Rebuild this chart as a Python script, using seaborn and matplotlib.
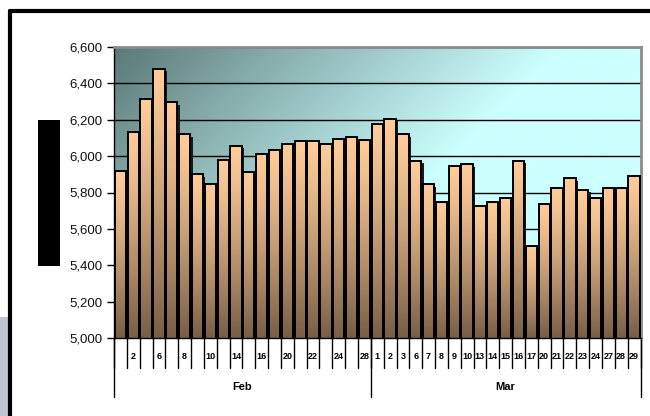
import numpy as np
import pandas as pd
import matplotlib
matplotlib.use("Agg")
import matplotlib.pyplot as plt
import seaborn as sns
from matplotlib.patches import Rectangle
from matplotlib.lines import Line2D
import matplotlib.transforms as mtransforms
from matplotlib.ticker import FuncFormatter

# ---- data ----
feb_days = [1, 2, 3, 6, 7, 8, 9, 10, 13, 14, 15, 16, 17, 20, 21, 22, 23, 24, 27, 28]
feb_values = [5920, 6134, 6316, 6479, 6296, 6120, 5900, 5847, 5979, 6056,
              5914, 6012, 6034, 6067, 6085, 6085, 6067, 6094, 6105, 6089]
mar_days = [1, 2, 3, 6, 7, 8, 9, 10, 13, 14, 15, 16, 17, 20, 21, 22, 23, 24, 27, 28, 29]
mar_values = [6177, 6204, 6120, 5975, 5845, 5746, 5946, 5955, 5726, 5746, 5771,
              5975, 5506, 5737, 5823, 5878, 5814, 5771, 5823, 5823, 5891]
months = ["Feb", "Mar"]
y_ticks = [5000, 5200, 5400, 5600, 5800, 6000, 6200, 6400, 6600]

sns.set_theme(style="white")
plt.rcParams['font.family'] = ['Liberation Sans', 'DejaVu Sans']

df = pd.DataFrame({
    "month": [months[0]] * len(feb_days) + [months[1]] * len(mar_days),
    "day": feb_days + mar_days,
    "value": feb_values + mar_values,
})
df["key"] = df["month"] + " " + df["day"].astype(str)
n = len(df)

W, H = 650, 416
fig = plt.figure(figsize=(W / 100, H / 100), dpi=100)
fig.patch.set_facecolor("white")
ax = fig.add_axes([114 / W, 1 - 338 / H, (640.5 - 114) / W, (338 - 47) / H])

sns.barplot(data=df, x="key", y="value", order=list(df["key"]), color="#FFCC99",
            width=0.88, edgecolor="black", linewidth=1.4, errorbar=None, ax=ax)

ymin, ymax = y_ticks[0], y_ticks[-1]

# background gradient of plot area
nx, ny = 300, 300
xx, yy = np.meshgrid(np.linspace(0, 1, nx), np.linspace(0, 1, ny))
t = np.clip((xx + 0.55 * yy) / 0.85, 0, 1) ** 0.95
c0 = np.array([0x5A, 0x78, 0x76]) / 255
c1 = np.array([0xCC, 0xFF, 0xFF]) / 255
bg = c0 + (c1 - c0) * t[..., None]
ax.imshow(bg, extent=[0, 1, 0, 1], transform=ax.transAxes, aspect="auto",
          zorder=0, origin="upper", interpolation="bilinear")

# bars: gradient fill + shadow
top_c = np.array([0xFF, 0xCC, 0x99]) / 255
bot_c = np.array([0x78, 0x5E, 0x46]) / 255
shadow_tr = ax.transData + mtransforms.ScaledTranslation(1.6 / 72, -1.6 / 72, fig.dpi_scale_trans)
for p in list(ax.patches):
    x0, w = p.get_x(), p.get_width()
    top = p.get_y() + p.get_height()
    bottom = ymin
    sh = Rectangle((x0, bottom), w, top - bottom, transform=shadow_tr,
                   facecolor="#1a1a1a", edgecolor="none", zorder=2)
    ax.add_patch(sh)
    frac = (np.linspace(0, 1, 128) ** 1.25)[:, None]
    grad = (top_c + (bot_c - top_c) * frac)[:, None, :]
    ax.imshow(grad, extent=[x0, x0 + w, bottom, top], aspect="auto",
              zorder=2.5, origin="upper", interpolation="bilinear")
    p.set_facecolor("none")
    p.set_zorder(3)

ax.set_xlim(-0.5, n - 0.5)
ax.set_ylim(ymin, ymax)
ax.set_yticks(y_ticks)
ax.yaxis.set_major_formatter(FuncFormatter(lambda v, pos: f"{int(v):,}"))
ax.set_xticks([])
ax.set_xlabel("")
ax.set_ylabel("")
ax.set_axisbelow(True)
ax.yaxis.grid(True, color="black", lw=1.0)
ax.xaxis.grid(False)
ax.tick_params(axis="y", left=True, length=5, width=1, color="black",
               labelsize=9.5, pad=3, labelcolor="#111111")

for s in ["left", "bottom"]:
    ax.spines[s].set_color("black")
    ax.spines[s].set_linewidth(1.0)
for s in ["top", "right"]:
    ax.spines[s].set_color("#8C8C8C")
    ax.spines[s].set_linewidth(2.0)

# multi-level category axis
trans = mtransforms.blended_transform_factory(ax.transData, ax.transAxes)
for i in range(n + 1):
    ax.add_line(Line2D([i - 0.5, i - 0.5], [0, -0.103], transform=trans,
                       color="black", lw=1.0, clip_on=False))
bounds = [-0.5, len(feb_days) - 0.5, n - 0.5]
for b in bounds:
    ax.add_line(Line2D([b, b], [0, -0.203], transform=trans,
                       color="black", lw=1.0, clip_on=False))

for i, d in enumerate(feb_days):
    if i % 2 == 1:
        ax.text(i, -0.065, str(d), transform=trans, ha="center", va="center",
                fontsize=6.5, fontweight="bold", color="black")
for j, d in enumerate(mar_days):
    i = len(feb_days) + j
    ax.text(i, -0.065, str(d), transform=trans, ha="center", va="center",
            fontsize=6.5, fontweight="bold", color="black")

ax.text((len(feb_days) - 1) / 2, -0.168, months[0], transform=trans,
        ha="center", va="center", fontsize=8, fontweight="bold", color="black")
ax.text(len(feb_days) + (len(mar_days) - 1) / 2, -0.168, months[1], transform=trans,
        ha="center", va="center", fontsize=8, fontweight="bold", color="black")

# decorations outside plot
fig.add_artist(Rectangle((0, 0), 8 / W, (416 - 317) / H, transform=fig.transFigure,
                         facecolor="#BFC5D0", edgecolor="none"))
fig.add_artist(Rectangle((38 / W, 1 - 266 / H), 22 / W, 146 / H, transform=fig.transFigure,
                         facecolor="black", edgecolor="none"))
fig.add_artist(Line2D([10 / W, 1.02], [1 - 11 / H, 1 - 11 / H], transform=fig.transFigure,
                      color="black", lw=3))
fig.add_artist(Line2D([10 / W, 10 / W], [1 - 11 / H, -0.02], transform=fig.transFigure,
                      color="black", lw=3))

fig.savefig("out.png", dpi=100)
